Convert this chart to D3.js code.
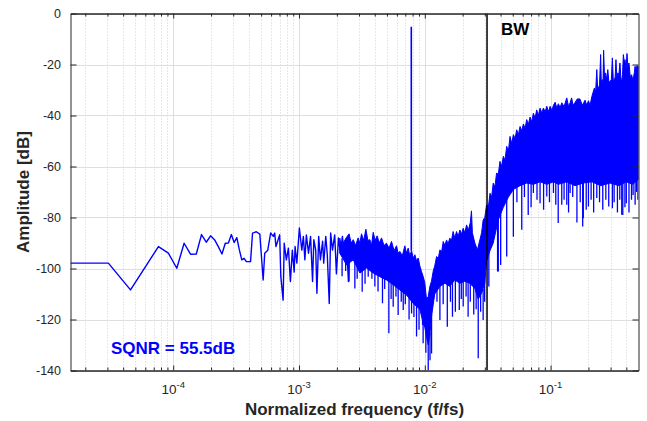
<!DOCTYPE html>
<html>
<head>
<meta charset="utf-8">
<script src="https://cdn.jsdelivr.net/npm/d3@7"></script>
<style>
  body { margin: 0; background: #fff; }
  svg { display: block; font-family: "Liberation Sans", Arial, Helvetica, sans-serif; }
</style>
</head>
<body>
<svg id="chart" width="647" height="421"></svg>
<script>
// FFT length, frequencies are bin / NFFT
const NFFT = 65536;

// sparse low-frequency part of the spectrum (bin index, dB)
const lowBin = [1,2,3,5,6,7,8,9,10,11,12,13,14,15,16,17,18,19,20,21,22,23,24,25,27,28,30,32,
  34,35,37,39,41,42,43,46,47,49,50,52,54,56,58,60,61,63,66,69,71,73,75,78,81,84,86,89,91,94,97,
  101,103,107,110,114,117,121,126,130,135,140,145,152,156,162,166];
const lowDb = [-97.9,-97.9,-108.4,-91.4,-94,-99.9,-90.1,-94.4,-94.3,-86.7,-89.7,-87.2,-88.8,-91.5,
  -94.3,-90.1,-90,-86.7,-89.8,-87.9,-92.7,-96.6,-96,-97.3,-97.3,-86.1,-85.6,-86.5,
  -104.5,-94,-92.8,-86.1,-87.4,-86.1,-91.4,-86.8,-103.2,-112.4,-90.1,-96.6,-92,-105.1,-92.8,-101.4,
  -91.4,-97.9,-84.1,-92.8,-87.4,-96.6,-86.8,-94,-87.4,-105.1,-88.7,-92.8,-109.7,-87.4,-96.6,
  -89.3,-97.9,-87.4,-94.6,-113.7,-86.1,-92.8,-86.8,-102.1,-88,-94,-87.4,-96.6,-88.7,-105.1,-90.1];

// dense part: upper edge of the noise band (f/fs, dB)
const bandTopF = [2.11e-3,2.17e-3,2.24e-3,2.37e-3,2.50e-3,2.60e-3,2.70e-3,2.82e-3,2.95e-3,3.05e-3,
  3.14e-3,3.27e-3,3.40e-3,3.53e-3,3.66e-3,3.77e-3,3.89e-3,4.03e-3,4.18e-3,4.35e-3,4.53e-3,4.74e-3,
  4.96e-3,5.20e-3,5.44e-3,5.70e-3,5.96e-3,6.14e-3,6.33e-3,6.63e-3,6.94e-3,7.16e-3,7.38e-3,7.60e-3,
  7.85e-3,8.09e-3,8.34e-3,8.60e-3,8.86e-3,9.14e-3,9.42e-3,9.72e-3,1.00e-2,1.032e-2,1.065e-2,1.098e-2,
  1.13e-2,1.167e-2,1.20e-2,1.241e-2,1.28e-2,1.319e-2,1.36e-2,1.402e-2,1.445e-2,1.49e-2,1.53e-2,
  1.58e-2,1.63e-2,1.68e-2,1.73e-2,1.79e-2,1.84e-2,1.90e-2,1.96e-2,2.02e-2,2.08e-2,2.15e-2,2.22e-2,
  2.30e-2,2.35e-2,2.39e-2,2.50e-2,2.62e-2,2.74e-2,2.83e-2,2.91e-2,3.00e-2,
  3.10e-2,3.20e-2,3.30e-2,3.40e-2,3.50e-2,3.61e-2,3.72e-2,3.84e-2,3.96e-2,4.08e-2,4.21e-2,4.34e-2,
  4.48e-2,4.62e-2,4.76e-2,4.91e-2,5.06e-2,5.22e-2,5.38e-2,5.55e-2,5.72e-2,5.90e-2,6.08e-2,6.27e-2,
  6.46e-2,6.66e-2,6.87e-2,7.08e-2,7.30e-2,7.53e-2,7.76e-2,8.00e-2,8.25e-2,8.51e-2,8.77e-2,9.05e-2,
  9.33e-2,9.62e-2,9.92e-2,0.1023,0.1054,0.1087,0.112,0.1154,0.119,0.1227,0.128,0.1345,0.139,0.143,
  0.147,0.151,0.156,0.163,0.171,0.179,0.188,0.194,0.200,0.206,
  0.213,0.223,0.228,0.233,0.237,0.245,0.250,0.253,0.258,0.261,0.264,
  0.269,0.274,0.280,0.285,0.291,0.297,0.304,0.310,0.315,0.321,0.326,0.331,0.336,0.342,0.349,0.356,
  0.362,0.368,0.373,0.379,0.385,0.391,0.398,0.405,0.412,0.420,0.430,0.441,0.450,0.458,0.464,0.469,
  0.478,0.487,0.495,0.500];
const bandTopDb = [-88.1,-92,-90.1,-88,-86.4,-90,-88.7,-91,-88,-90,
  -86.4,-89,-84.6,-89,-88.7,-91,-85.8,-89,-87.2,-90,-88,-91,
  -90.1,-92,-89.4,-93,-91.1,-94,-93.3,-95,-91.1,-94,-92,-95,
  -93,-96,-94.6,-97,-95.9,-99,-101.2,-103.2,-105.6,-112,-111,-107,
  -105,-101,-99,-95.3,-96,-92.7,-93.5,-89.4,-91,-88.8,-90.5,
  -88.1,-89,-85.5,-88,-85.5,-87.5,-84.9,-86.5,-84.2,-86,-82.9,-85,
  -82,-77.4,-86,-90,-92.7,-88.8,-86,-81,-80,
  -75,-76,-70.5,-72,-66.5,-68,-62.6,-63,-58,-60,-56,-57.5,
  -52.1,-54,-48.2,-51,-47.5,-49,-45.6,-47.5,-44.3,-46,-43.3,-45,
  -41.6,-43.5,-40.6,-42.5,-39.1,-41,-37.8,-40,-37.1,-39,-37.1,-38.5,
  -36.4,-38.5,-36.4,-38,-36,-34.8,-37,-35.4,-37,-35,-36.5,-33.1,-36.5,-35,
  -33.1,-36,-35,-33.5,-33.5,-36,-34,-36,-34.2,-36,
  -32.5,-29.2,-31,-22,-30,-28,-16.1,-27,-25.9,-28,-14.4,
  -26,-23.3,-26,-22,-27,-26.6,-26,-17.4,-26,-25.9,-25,-18.1,-25,-23.3,-24,-19.4,
  -25,-27.2,-24,-16.1,-19,-18.1,-22,-15.7,-21,-19.4,-25,-24,-26,-24.6,-23,-20.7,
  -22,-20.4,-21,-20.7];

// dense part: lower edge of the noise band
const bandBotF = [2.11e-3,2.39e-3,2.70e-3,3.05e-3,3.44e-3,3.89e-3,4.39e-3,4.96e-3,5.61e-3,6.33e-3,
  7.16e-3,8.09e-3,9.14e-3,9.72e-3,1.00e-2,1.032e-2,1.065e-2,1.098e-2,1.13e-2,1.20e-2,1.319e-2,
  1.445e-2,1.58e-2,1.73e-2,1.90e-2,2.08e-2,2.28e-2,2.50e-2,2.66e-2,2.83e-2,3.00e-2,3.10e-2,3.30e-2,
  3.50e-2,3.84e-2,4.21e-2,4.62e-2,5.06e-2,5.72e-2,6.46e-2,7.30e-2,8.25e-2,9.33e-2,0.1054,0.1154,
  0.1345,0.156,0.182,0.213,0.250,0.297,0.350,0.400,0.450,0.500];
const bandBotDb = [-94,-98.6,-96.6,-101.8,-99.8,-101.8,-103.2,-104.5,-106.4,-108.4,
  -110.4,-113.7,-116,-121.5,-123,-127,-130,-126,-119,-110,-107,
  -105.8,-107,-104.5,-105.8,-105,-105.8,-107.8,-112,-109.7,-105.8,-97,-93,
  -90,-81,-76,-72,-69,-67.5,-66.5,-67,-66,-67,-66,-67,
  -66,-67.5,-66.5,-66,-67.5,-66.5,-67.5,-66,-67,-65];

// isolated dips below the band (f/fs, where they leave the band, tip)
const dipF = [2.50e-3,2.78e-3,3.18e-3,3.55e-3,4.01e-3,4.61e-3,5.18e-3,5.61e-3,6.14e-3,6.74e-3,
  7.85e-3,8.60e-3,9.60e-3,9.70e-3,1.065e-2,1.132e-2,1.319e-2,1.51e-2,1.66e-2,1.88e-2,
  2.02e-2,2.21e-2,2.66e-2,2.91e-2,3.23e-2,3.79e-2,3.84e-2,4.01e-2,4.48e-2,5.06e-2,
  5.90e-2,6.64e-2,7.30e-2,8.25e-2,9.33e-2,0.1054,0.115,0.1227,0.1345,0.143,
  0.162,0.180,0.182,0.200,0.233,0.290,0.310,0.368,0.375,0.400,0.453,0.483,
  2.20e-3,2.35e-3,2.90e-3,3.35e-3,3.80e-3,4.25e-3,4.80e-3,5.40e-3,5.90e-3,6.50e-3,
  7.00e-3,7.50e-3,8.20e-3,9.00e-3,1.02e-2,1.10e-2,1.25e-2,1.40e-2,1.60e-2,1.75e-2,
  1.95e-2,2.13e-2,2.30e-2,2.45e-2,2.56e-2,2.78e-2,2.99e-2,
  5.40e-2,6.20e-2,7.00e-2,7.80e-2,8.80e-2,9.80e-2,0.110,0.128,0.139,0.150,
  0.172,0.192,0.210,0.220,0.245,0.260,0.275,0.320,0.340,0.355,0.390,0.420,0.440,0.470,0.495];
const dipTop = [-96,-96,-100,-99,-101,-103,-104,-105,-107,-108,
  -112,-114,-119,-120,-128,-118,-106,-106,-104,-104,
  -104,-104,-110,-108,-92,-80,-79,-77,-70,-67,
  -66,-65,-65,-64,-65,-64,-65,-65,-64,-65,
  -65,-64,-64,-65,-65,-64,-64,-65,-65,-64,-65,-64,
  -96,-97,-98,-99,-100,-102,-103,-105,-106,-107,
  -109,-110,-112,-115,-125,-125,-105,-104,-105,-103,
  -104,-104,-104,-106,-108,-110,-104,
  -66,-65,-65,-65,-65,-65,-65,-65,-65,-65,
  -65,-65,-65,-65,-65,-65,-65,-65,-65,-65,-65,-65,-65,-65,-64];
const dipDb = [-105.1,-107.8,-109.1,-103.2,-107.1,-113.6,-125.4,-115,-118.2,-116.3,
  -117.6,-126.7,-122.2,-129.3,-139.8,-133.3,-120.2,-122.8,-118.9,-116.3,
  -114.9,-118.9,-135.2,-120.2,-107.1,-101.2,-101.2,-98.6,-95.3,-87.5,
  -84.8,-79,-70.4,-74.4,-71.8,-70.4,-82.2,-75,-75,-70.4,
  -82,-83.5,-80.3,-75.7,-72.4,-75.7,-76.4,-78.9,-79,-74.4,-71.2,-70,
  -103,-101,-104,-106,-104,-109,-108,-112,-111,-113,
  -114,-120,-119,-124,-133,-136,-113,-114,-113,-117,
  -112,-111,-113,-118,-116,-117,-113,
  -74,-72,-76,-73,-77,-74,-75,-73,-78,-72,
  -74,-77,-73,-78,-74,-77,-73,-74,-78,-73,-76,-78,-73,-75,-73];

// input tone and signal bandwidth
const toneF = 1 / 128, toneBaseDb = -93, tonePeakDb = -5.2;
const bwF = 1 / 32;
const sqnrText = "SQNR = 55.5dB";

const yTicks = [-140, -120, -100, -80, -60, -40, -20, 0];
const xMajor = [1e-4, 1e-3, 1e-2, 1e-1];
const xExp = ["-4", "-3", "-2", "-1"];

const W = 647, H = 421;
const x = d3.scaleLog().domain([1 / NFFT, 0.5]).range([70.5, 638.5]);
const y = d3.scaleLinear().domain([-140, 0]).range([370.5, 13.5]);

// minor ticks 2..9 in every decade inside the domain
const xMinor = [];
for (let e = -5; e <= -1; e++) {
  for (let m = 2; m <= 9; m++) {
    const v = m * Math.pow(10, e);
    if (v > x.domain()[0] && v < x.domain()[1]) xMinor.push(v);
  }
}

const svg = d3.select("#chart");
svg.append("rect").attr("width", W).attr("height", H).attr("fill", "#fff");

const x0 = x.range()[0], x1 = x.range()[1], yT = y.range()[1], yB = y.range()[0];

// grid
const grid = svg.append("g");
grid.selectAll(".minor").data(xMinor).join("line")
  .attr("x1", d => Math.round(x(d)) + 0.5).attr("x2", d => Math.round(x(d)) + 0.5)
  .attr("y1", yT).attr("y2", yB)
  .attr("stroke", "#c4c4c4").attr("stroke-width", 0.8).attr("stroke-dasharray", "1,2");
grid.selectAll(".major").data(xMajor).join("line")
  .attr("x1", d => Math.round(x(d)) + 0.5).attr("x2", d => Math.round(x(d)) + 0.5)
  .attr("y1", yT).attr("y2", yB)
  .attr("stroke", "#dedede").attr("stroke-width", 1);
grid.selectAll(".ygrid").data(yTicks).join("line")
  .attr("x1", x0).attr("x2", x1)
  .attr("y1", d => Math.round(y(d)) + 0.5).attr("y2", d => Math.round(y(d)) + 0.5)
  .attr("stroke", "#dedede").attr("stroke-width", 1);

// clip to axes box
svg.append("clipPath").attr("id", "clip").append("rect")
  .attr("x", x0).attr("y", yT).attr("width", x1 - x0).attr("height", yB - yT);
const plot = svg.append("g").attr("clip-path", "url(#clip)");

const line = d3.line().x(d => x(d[0])).y(d => y(d[1]));

// noise band (dense bins) as filled outline
const topPts = d3.zip(bandTopF, bandTopDb);
const botPts = d3.zip(bandBotF, bandBotDb).reverse();
plot.append("path")
  .attr("d", line(topPts.concat(botPts)) + "Z")
  .attr("fill", "#0000ff").attr("stroke", "#0000ff").attr("stroke-width", 1)
  .attr("stroke-linejoin", "miter");

// dips
plot.selectAll(".dip").data(d3.zip(dipF, dipTop, dipDb)).join("line")
  .attr("x1", d => x(d[0])).attr("x2", d => x(d[0]))
  .attr("y1", d => y(d[1])).attr("y2", d => y(d[2]))
  .attr("stroke", "#0000ff").attr("stroke-width", 1.3);

// sparse low-frequency trace
plot.append("path")
  .datum(lowBin.map((k, i) => [k / NFFT, lowDb[i]]))
  .attr("d", line)
  .attr("fill", "none").attr("stroke", "#0000ff").attr("stroke-width", 1.4)
  .attr("stroke-linejoin", "round");

// tone
plot.append("line")
  .attr("x1", x(toneF)).attr("x2", x(toneF))
  .attr("y1", y(toneBaseDb)).attr("y2", y(tonePeakDb))
  .attr("stroke", "#0000ff").attr("stroke-width", 1.6);

// bandwidth marker
plot.append("line")
  .attr("x1", x(bwF)).attr("x2", x(bwF)).attr("y1", yT).attr("y2", yB)
  .attr("stroke", "#000").attr("stroke-width", 1.5);
svg.append("text").attr("x", x(bwF) + 14).attr("y", 35)
  .attr("font-size", 17).attr("font-weight", "bold").attr("fill", "#000").text("BW");

// axes (ticks point inward)
const axisColor = "#262626";
function styleAxis(g) {
  g.select(".domain").attr("stroke", axisColor);
  g.selectAll(".tick line").attr("stroke", axisColor);
  g.selectAll(".tick text").remove();
}
svg.append("g").attr("transform", `translate(0,${yB})`)
  .call(d3.axisBottom(x).tickValues(xMajor).tickSize(-5).tickSizeOuter(0).tickFormat("")).call(styleAxis);
svg.append("g").attr("transform", `translate(0,${yB})`)
  .call(d3.axisBottom(x).tickValues(xMinor).tickSize(-3).tickSizeOuter(0).tickFormat("")).call(styleAxis);
svg.append("g").attr("transform", `translate(0,${yT})`)
  .call(d3.axisTop(x).tickValues(xMajor).tickSize(-5).tickSizeOuter(0).tickFormat("")).call(styleAxis);
svg.append("g").attr("transform", `translate(0,${yT})`)
  .call(d3.axisTop(x).tickValues(xMinor).tickSize(-3).tickSizeOuter(0).tickFormat("")).call(styleAxis);
svg.append("g").attr("transform", `translate(${x0},0)`)
  .call(d3.axisLeft(y).tickValues(yTicks).tickSize(-6).tickSizeOuter(0).tickFormat("")).call(styleAxis);
svg.append("g").attr("transform", `translate(${x1},0)`)
  .call(d3.axisRight(y).tickValues(yTicks).tickSize(-6).tickSizeOuter(0).tickFormat("")).call(styleAxis);

// tick labels
svg.append("g").selectAll("text").data(yTicks).join("text")
  .attr("x", 61).attr("y", d => y(d) + 4.5)
  .attr("text-anchor", "end").attr("font-size", 12.5).attr("fill", axisColor)
  .text(d => d);
const xl = svg.append("g").selectAll("text").data(xMajor).join("text")
  .attr("x", d => x(d)).attr("y", 394)
  .attr("text-anchor", "middle").attr("font-size", 13.5).attr("fill", axisColor);
xl.append("tspan").text("10");
xl.append("tspan").attr("dy", -6.5).attr("font-size", 9.5).text((d, i) => xExp[i]);

// axis titles
svg.append("text").attr("x", (x0 + x1) / 2).attr("y", 415)
  .attr("text-anchor", "middle").attr("font-size", 17).attr("font-weight", "bold")
  .attr("fill", axisColor).text("Normalized frequency (f/fs)");
svg.append("text").attr("transform", `translate(28.5,${(yT + yB) / 2}) rotate(-90)`)
  .attr("text-anchor", "middle").attr("font-size", 17).attr("font-weight", "bold")
  .attr("fill", axisColor).text("Amplitude [dB]");

// SQNR annotation
svg.append("text").attr("x", 111).attr("y", 354)
  .attr("font-size", 17).attr("font-weight", "bold").attr("fill", "#0000ff").text(sqnrText);
</script>
</body>
</html>
